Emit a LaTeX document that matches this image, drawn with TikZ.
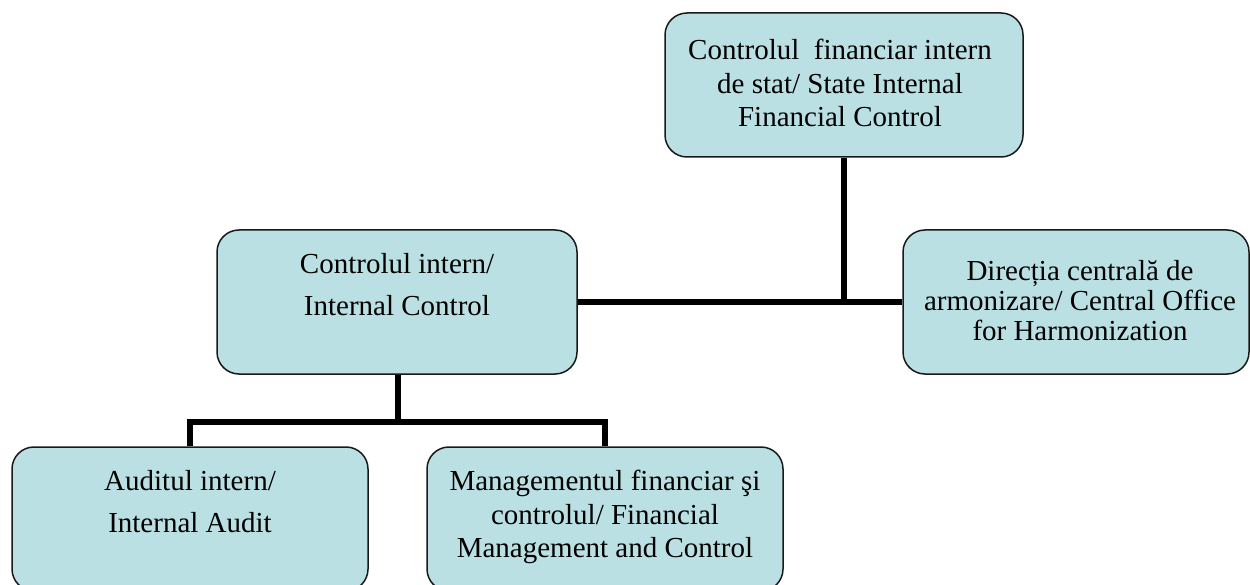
\documentclass[tikz,border=0pt]{standalone}
\usepackage{fontspec}
\setmainfont{Liberation Serif}
\usetikzlibrary{backgrounds}
\definecolor{boxfill}{RGB}{187,224,228}
\definecolor{boxline}{RGB}{25,25,25}
\tikzset{
  orgbox/.style={draw=boxline, fill=boxfill, line width=1.5pt, rounded corners=22pt, inner sep=0pt},
  txt/.style={align=center, inner sep=0pt, anchor=north, text=black},
  link/.style={line width=6.5pt, draw=black, line join=miter},
}
\newcommand{\fs}[1]{\fontsize{29}{#1}\selectfont}
\begin{document}
\begin{tikzpicture}[x=1pt,y=-1pt]
\useasboundingbox (0,0) rectangle (1250,585);
% boxes
\node[orgbox, minimum width=358pt, minimum height=144pt] (top) at (844,85) {};
\node[orgbox, minimum width=360pt, minimum height=144pt] (mid) at (397,302) {};
\node[orgbox, minimum width=346pt, minimum height=144pt] (right) at (1076,302) {};
\node[orgbox, minimum width=356pt, minimum height=144pt] (bl) at (190,519) {};
\node[orgbox, minimum width=356pt, minimum height=144pt] (bm) at (605,519) {};
% texts
\node[txt, font=\fs{33.5}] (ttop) at (840,39) {Controlul\ \ financiar intern\\de stat/ State Internal\\Financial Control};
\node[txt, font=\fs{42}] (tmid) at (397,253) {Controlul intern/\\Internal Control};
\node[txt, font=\fs{30}] (tright) at (1080,260) {Direcția centrală de\\armonizare/ Central Office\\for Harmonization};
\node[txt, font=\fs{42}] (tbl) at (190,470) {Auditul intern/\\Internal Audit};
\node[txt, font=\fs{33.5}] (tbm) at (605,470) {Managementul financiar şi\\controlul/ Financial\\Management and Control};
% connectors
\coordinate (bus) at (398,422);
\begin{scope}[on background layer]
\draw[link] (mid.east) -- (right.west);
\draw[link] (top.south) -- (top.south |- mid.east);
\draw[link] (mid.south -| bus) -- (bus);
\draw[link] (bl.north) -- (bl.north |- bus) -- (bm.north |- bus) -- (bm.north);
\end{scope}
\end{tikzpicture}
\end{document}
